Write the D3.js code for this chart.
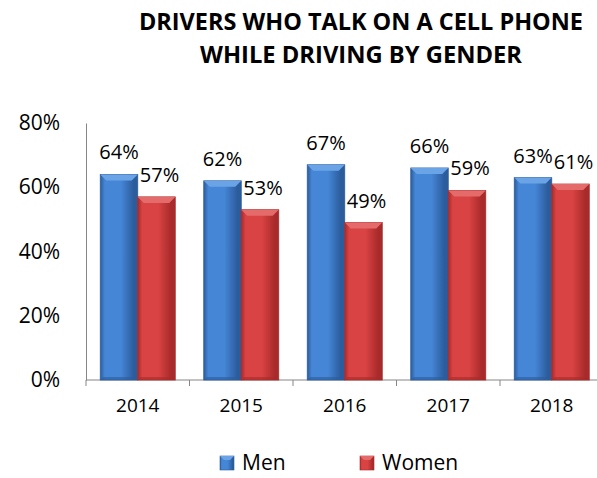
<!DOCTYPE html>
<html>
<head>
<meta charset="utf-8">
<script src="https://cdn.jsdelivr.net/npm/d3@7"></script>
<style>
  html, body { margin: 0; padding: 0; background: #fff; }
  svg { display: block; font-family: "Open Sans", "Noto Sans", sans-serif; }
</style>
</head>
<body>
<div id="chart"></div>
<script>
/* ---------- data ---------- */
const years = ['2014', '2015', '2016', '2017', '2018'];
const men = [64, 62, 67, 66, 63];
const women = [57, 53, 49, 59, 61];
const yTicks = [0, 20, 40, 60, 80];
const titleLines = ['DRIVERS WHO TALK ON A CELL PHONE', 'WHILE DRIVING BY GENDER'];
const seriesNames = ['Men', 'Women'];

(function () {
  const W = 597, H = 478;
  const axisColor = '#868686';

  const svg = d3.select('#chart').append('svg')
    .attr('width', W)
    .attr('height', H)
    .attr('viewBox', `0 0 ${W} ${H}`);

  // gradients for the bevelled bars
  const defs = svg.append('defs');
  const palettes = {
    blue: { edge: '#2b5c9c', mid: '#4586d6', top: '#6aa3e6' },
    red:  { edge: '#a82a2a', mid: '#d94343', top: '#e56a6a' }
  };
  Object.entries(palettes).forEach(([k, p]) => {
    const lg = defs.append('linearGradient').attr('id', 'g-' + k)
      .attr('x1', 0).attr('x2', 1).attr('y1', 0).attr('y2', 0);
    lg.append('stop').attr('offset', '0%').attr('stop-color', p.edge);
    lg.append('stop').attr('offset', '12%').attr('stop-color', p.mid);
    lg.append('stop').attr('offset', '55%').attr('stop-color', p.mid);
    lg.append('stop').attr('offset', '90%').attr('stop-color', p.edge);
    lg.append('stop').attr('offset', '100%').attr('stop-color', p.edge);
  });

  const left = 86, right = 603.5, top = 123, bottom = 380;

  const x = d3.scaleBand().domain(years).range([left, right]).paddingInner(0).paddingOuter(0);
  const y = d3.scaleLinear().domain([0, 80]).range([bottom, top]);
  const barW = 37.5;

  // title (two centred lines)
  const titleW = [444, 322];
  svg.append('g').selectAll('text').data(titleLines).join('text')
    .attr('x', 361)
    .attr('y', (d, i) => 30 + i * 33)
    .attr('text-anchor', 'middle')
    .attr('font-size', 24)
    .attr('font-weight', 'bold')
    .attr('fill', '#000')
    .attr('textLength', (d, i) => titleW[i])
    .attr('lengthAdjust', 'spacingAndGlyphs')
    .text(d => d);

  // y axis
  const yAxis = d3.axisLeft(y).tickValues(yTicks).tickSize(0).tickPadding(26).tickFormat(d => d + '%');
  const gy = svg.append('g').attr('transform', `translate(${left},0)`).call(yAxis);
  gy.select('.domain').attr('stroke', axisColor);
  gy.selectAll('text').attr('font-size', 21).attr('fill', '#000')
    .attr('font-family', '"Open Sans", "Noto Sans", sans-serif');
  // extend y axis down to tick length
  svg.append('line').attr('x1', left).attr('x2', left)
    .attr('y1', bottom).attr('y2', bottom + 6).attr('stroke', axisColor);

  // x axis
  svg.append('line').attr('x1', left).attr('x2', W)
    .attr('y1', bottom).attr('y2', bottom).attr('stroke', axisColor);
  svg.append('g').selectAll('line').data(years.slice(1)).join('line')
    .attr('x1', d => x(d)).attr('x2', d => x(d))
    .attr('y1', bottom).attr('y2', bottom + 6)
    .attr('stroke', axisColor);
  svg.append('g').selectAll('text').data(years).join('text')
    .attr('x', d => x(d) + x.bandwidth() / 2)
    .attr('y', bottom + 32)
    .attr('text-anchor', 'middle')
    .attr('font-size', 19)
    .attr('fill', '#000')
    .text(d => d);

  // bars
  const rows = years.map((yr, i) => ({ yr, men: men[i], women: women[i] }));
  const series = [
    { key: 'men', pal: 'blue', off: -barW },
    { key: 'women', pal: 'red', off: 0 }
  ];

  function drawBar(g, x0, v, pal) {
    const y0 = y(v), h = bottom - y0, p = palettes[pal];
    g.append('rect')
      .attr('x', x0).attr('y', y0).attr('width', barW).attr('height', h)
      .attr('fill', `url(#g-${pal})`)
      .attr('stroke', p.edge).attr('stroke-width', 0.8);
    const b = 6;
    g.append('path')
      .attr('d', `M${x0},${y0} L${x0 + barW},${y0} L${x0 + barW - b},${y0 + b} L${x0 + b},${y0 + b} Z`)
      .attr('fill', p.top);
    g.append('path')
      .attr('d', `M${x0},${bottom} L${x0 + barW},${bottom} L${x0 + barW - 3},${bottom - 3} L${x0 + 3},${bottom - 3} Z`)
      .attr('fill', p.edge).attr('opacity', 0.6);
  }

  const gBars = svg.append('g');
  rows.forEach(r => {
    const cx = x(r.yr) + x.bandwidth() / 2;
    series.forEach(s => {
      const x0 = cx + s.off;
      drawBar(gBars, x0, r[s.key], s.pal);
      gBars.append('text')
        .attr('x', x0 + barW / 2 + (s.key === 'women' ? 3 : 0))
        .attr('y', y(r[s.key]) - 15)
        .attr('text-anchor', 'middle')
        .attr('font-size', 20)
        .attr('fill', '#000')
        .text(r[s.key] + '%');
    });
  });

  // legend
  const legend = svg.append('g');
  const legX = [220, 360];
  const sq = 14;
  seriesNames.forEach((name, i) => {
    const pal = i === 0 ? 'blue' : 'red';
    const p = palettes[pal];
    const lx = legX[i], ly = 456;
    legend.append('rect').attr('x', lx).attr('y', ly).attr('width', sq).attr('height', sq)
      .attr('fill', `url(#g-${pal})`).attr('stroke', p.edge).attr('stroke-width', 0.6);
    legend.append('path')
      .attr('d', `M${lx},${ly} L${lx + sq},${ly} L${lx + sq - 4},${ly + 4} L${lx + 4},${ly + 4} Z`)
      .attr('fill', p.top);
    legend.append('text')
      .attr('x', lx + 22).attr('y', ly + 14)
      .attr('font-size', 21)
      .attr('fill', '#000')
      .text(name);
  });
})();
</script>
</body>
</html>
